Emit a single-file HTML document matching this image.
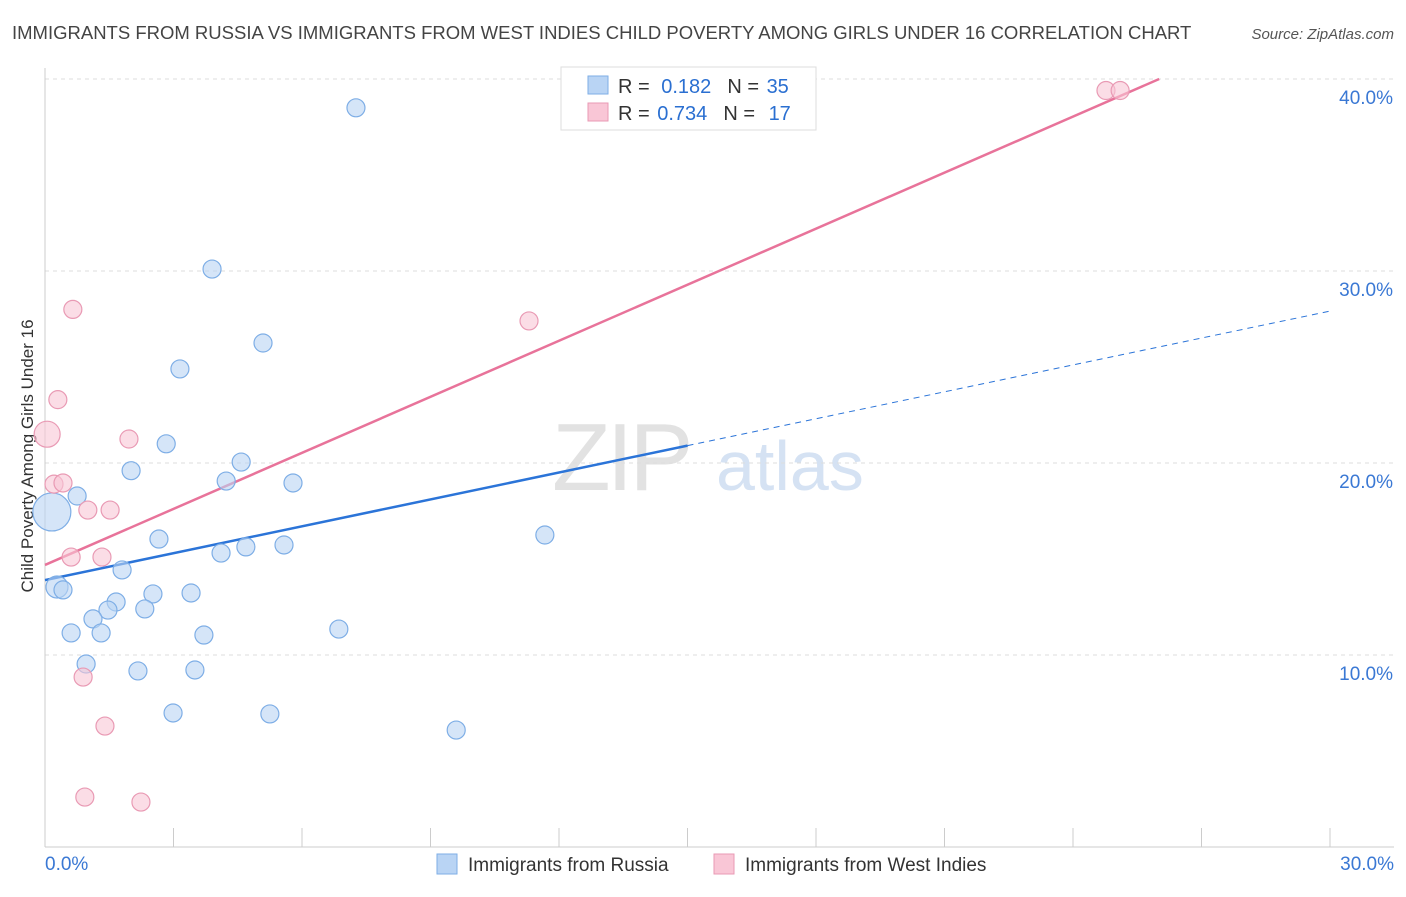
<!DOCTYPE html>
<html><head><meta charset="utf-8">
<style>
body{margin:0;background:#fff;font-family:"Liberation Sans",sans-serif;}
svg text{font-family:"Liberation Sans",sans-serif;}
</style></head>
<body>
<svg id="chart" width="1406" height="892" xmlns="http://www.w3.org/2000/svg">
<text x="12" y="39" font-size="18.5" fill="#444">IMMIGRANTS FROM RUSSIA VS IMMIGRANTS FROM WEST INDIES CHILD POVERTY AMONG GIRLS UNDER 16 CORRELATION CHART</text>
<text x="1394" y="39" font-size="15" fill="#555" font-style="italic" text-anchor="end">Source: ZipAtlas.com</text>
<g>
<text x="552" y="490" font-size="96" fill="#e2e2e2" font-family="Liberation Serif" letter-spacing="-4">ZIP</text>
<text x="716" y="490" font-size="70" fill="#d5e2f3">atlas</text>
</g>
<text transform="translate(33,456) rotate(-90)" font-size="17" fill="#333" text-anchor="middle">Child Poverty Among Girls Under 16</text>
<g id="grid"></g>
<g id="axes"></g>
<g id="lines"></g>
<g id="points"></g>
<g>
<rect x="561" y="67" width="255" height="63" fill="#fff" stroke="#ddd"/>
<rect x="588" y="76" width="20" height="18" fill="#b9d4f4" stroke="#7eaee6"/>
<rect x="588" y="103" width="20" height="18" fill="#f9c6d6" stroke="#e99ab4"/>
<text x="618" y="93" font-size="20" fill="#333">R = <tspan fill="#2a6fd1" dx="6">0.182</tspan><tspan dx="16" fill="#333">N = </tspan><tspan fill="#2a6fd1" dx="2">35</tspan></text>
<text x="618" y="120" font-size="20" fill="#333">R = <tspan fill="#2a6fd1" dx="2">0.734</tspan><tspan dx="16" fill="#333">N = </tspan><tspan fill="#2a6fd1" dx="8">17</tspan></text>
</g>
<g>
<rect x="437" y="854" width="20" height="20" fill="#b9d4f4" stroke="#7eaee6"/>
<text x="468" y="871" font-size="19" fill="#333">Immigrants from Russia</text>
<rect x="714" y="854" width="20" height="20" fill="#f9c6d6" stroke="#e99ab4"/>
<text x="745" y="871" font-size="19" fill="#333">Immigrants from West Indies</text>
</g>
</svg>
<script>
const yTicks=[10,20,30,40];
const yTickLabels=["10.0%","20.0%","30.0%","40.0%"];
const xTickLabels=["0.0%","30.0%"];
const russiaX=[7.26,3.90,5.09,3.15,2.83,2.01,4.58,4.23,5.79,0.75,0.16,2.66,4.11,4.69,5.58,11.67,1.80,0.28,0.42,2.52,3.41,1.66,1.47,2.33,1.12,0.61,1.31,3.71,6.86,0.96,2.17,3.50,2.99,5.25,9.60];
const russiaY=[38.5,30.1,26.25,24.9,21.0,19.6,20.05,19.06,18.96,18.28,17.45,16.04,15.31,15.63,15.73,16.25,14.43,13.54,13.39,13.18,13.23,12.76,12.34,12.4,11.88,11.15,11.15,11.04,11.35,9.53,9.17,9.22,6.98,6.93,6.09];
const russiaR=[9,9,9,9,9,9,9,9,9,9,19,9,9,9,9,9,9,11,9,9,9,9,9,9,9,9,9,9,9,9,9,9,9,9,9];
const wiX=[24.77,25.1,0.65,11.3,0.30,0.05,1.96,0.21,0.42,1.0,1.52,0.61,1.33,0.89,1.40,0.93,2.24];
const wiY=[39.4,39.4,28.0,27.4,23.3,21.5,21.25,18.9,18.96,17.55,17.55,15.1,15.1,8.85,6.3,2.6,2.34];
const wiR=[9,9,9,9,9,13,9,9,9,9,9,9,9,9,9,9,9];
const russiaTrend=[13.9,0.467];
const wiTrend=[14.69,0.973];
const NS="http://www.w3.org/2000/svg";
const X0=45,X1=1330,Y0=847,PXY=19.2;
function xs(v){return X0+v*(X1-X0)/30;}
function ys(v){return Y0-v*PXY;}
function mk(parent,tag,attrs){const e=document.createElementNS(NS,tag);for(const k in attrs)e.setAttribute(k,attrs[k]);document.getElementById(parent).appendChild(e);return e;}
yTicks.forEach((t,i)=>{
  const l=mk('grid','line',{x1:X0,x2:1394,y1:ys(t),y2:ys(t),stroke:'#ddd','stroke-dasharray':'4,4'});
  
  
  const tx=mk('grid','text',{x:1393,y:ys(t)+25,'font-size':19,fill:'#3a78d4','text-anchor':'end'});
  tx.textContent=yTickLabels[i];
  
  
});
let ax=mk('axes','line',{x1:X0,x2:X0,y1:68,y2:Y0,stroke:'#ccc'});


ax=mk('axes','line',{x1:X0,x2:1394,y1:Y0,y2:Y0,stroke:'#ccc'});


for(let i=0;i<=10;i++){
  const t=mk('axes','line',{x1:xs(i*3),x2:xs(i*3),y1:828,y2:Y0,stroke:'#ccc'});
  
  
}
[[0,'start',45],[30,'end',1394]].forEach((d,i)=>{
  const tx=mk('axes','text',{x:d[2],y:870,'font-size':19,fill:'#3a78d4','text-anchor':d[1]});
  tx.textContent=xTickLabels[i];
  
  
});
function pts(xa,ya,ra,fill,stroke,name){
  xa.forEach((x,i)=>{
    const c=mk('points','circle',{cx:xs(x),cy:ys(ya[i]),r:ra[i],fill:fill,'fill-opacity':0.6,stroke:stroke,'stroke-width':1.2});
    
    
  });
}
pts(russiaX,russiaY,russiaR,'#b9d4f4','#7eaee6','russia-point');
pts(wiX,wiY,wiR,'#f9c6d6','#e99ab4','west-indies-point');
let l=mk('lines','line',{x1:xs(0),y1:ys(russiaTrend[0]),x2:xs(15),y2:ys(russiaTrend[0]+15*russiaTrend[1]),stroke:'#2b74d8','stroke-width':2.5});


l=mk('lines','line',{x1:xs(15),y1:ys(russiaTrend[0]+15*russiaTrend[1]),x2:xs(30),y2:ys(russiaTrend[0]+30*russiaTrend[1]),stroke:'#2b74d8','stroke-width':1,'stroke-dasharray':'6,5'});


const xe=(40-wiTrend[0])/wiTrend[1];
l=mk('lines','line',{x1:xs(0),y1:ys(wiTrend[0]),x2:xs(xe),y2:ys(40),stroke:'#e8739a','stroke-width':2.5});


</script>
</body></html>
